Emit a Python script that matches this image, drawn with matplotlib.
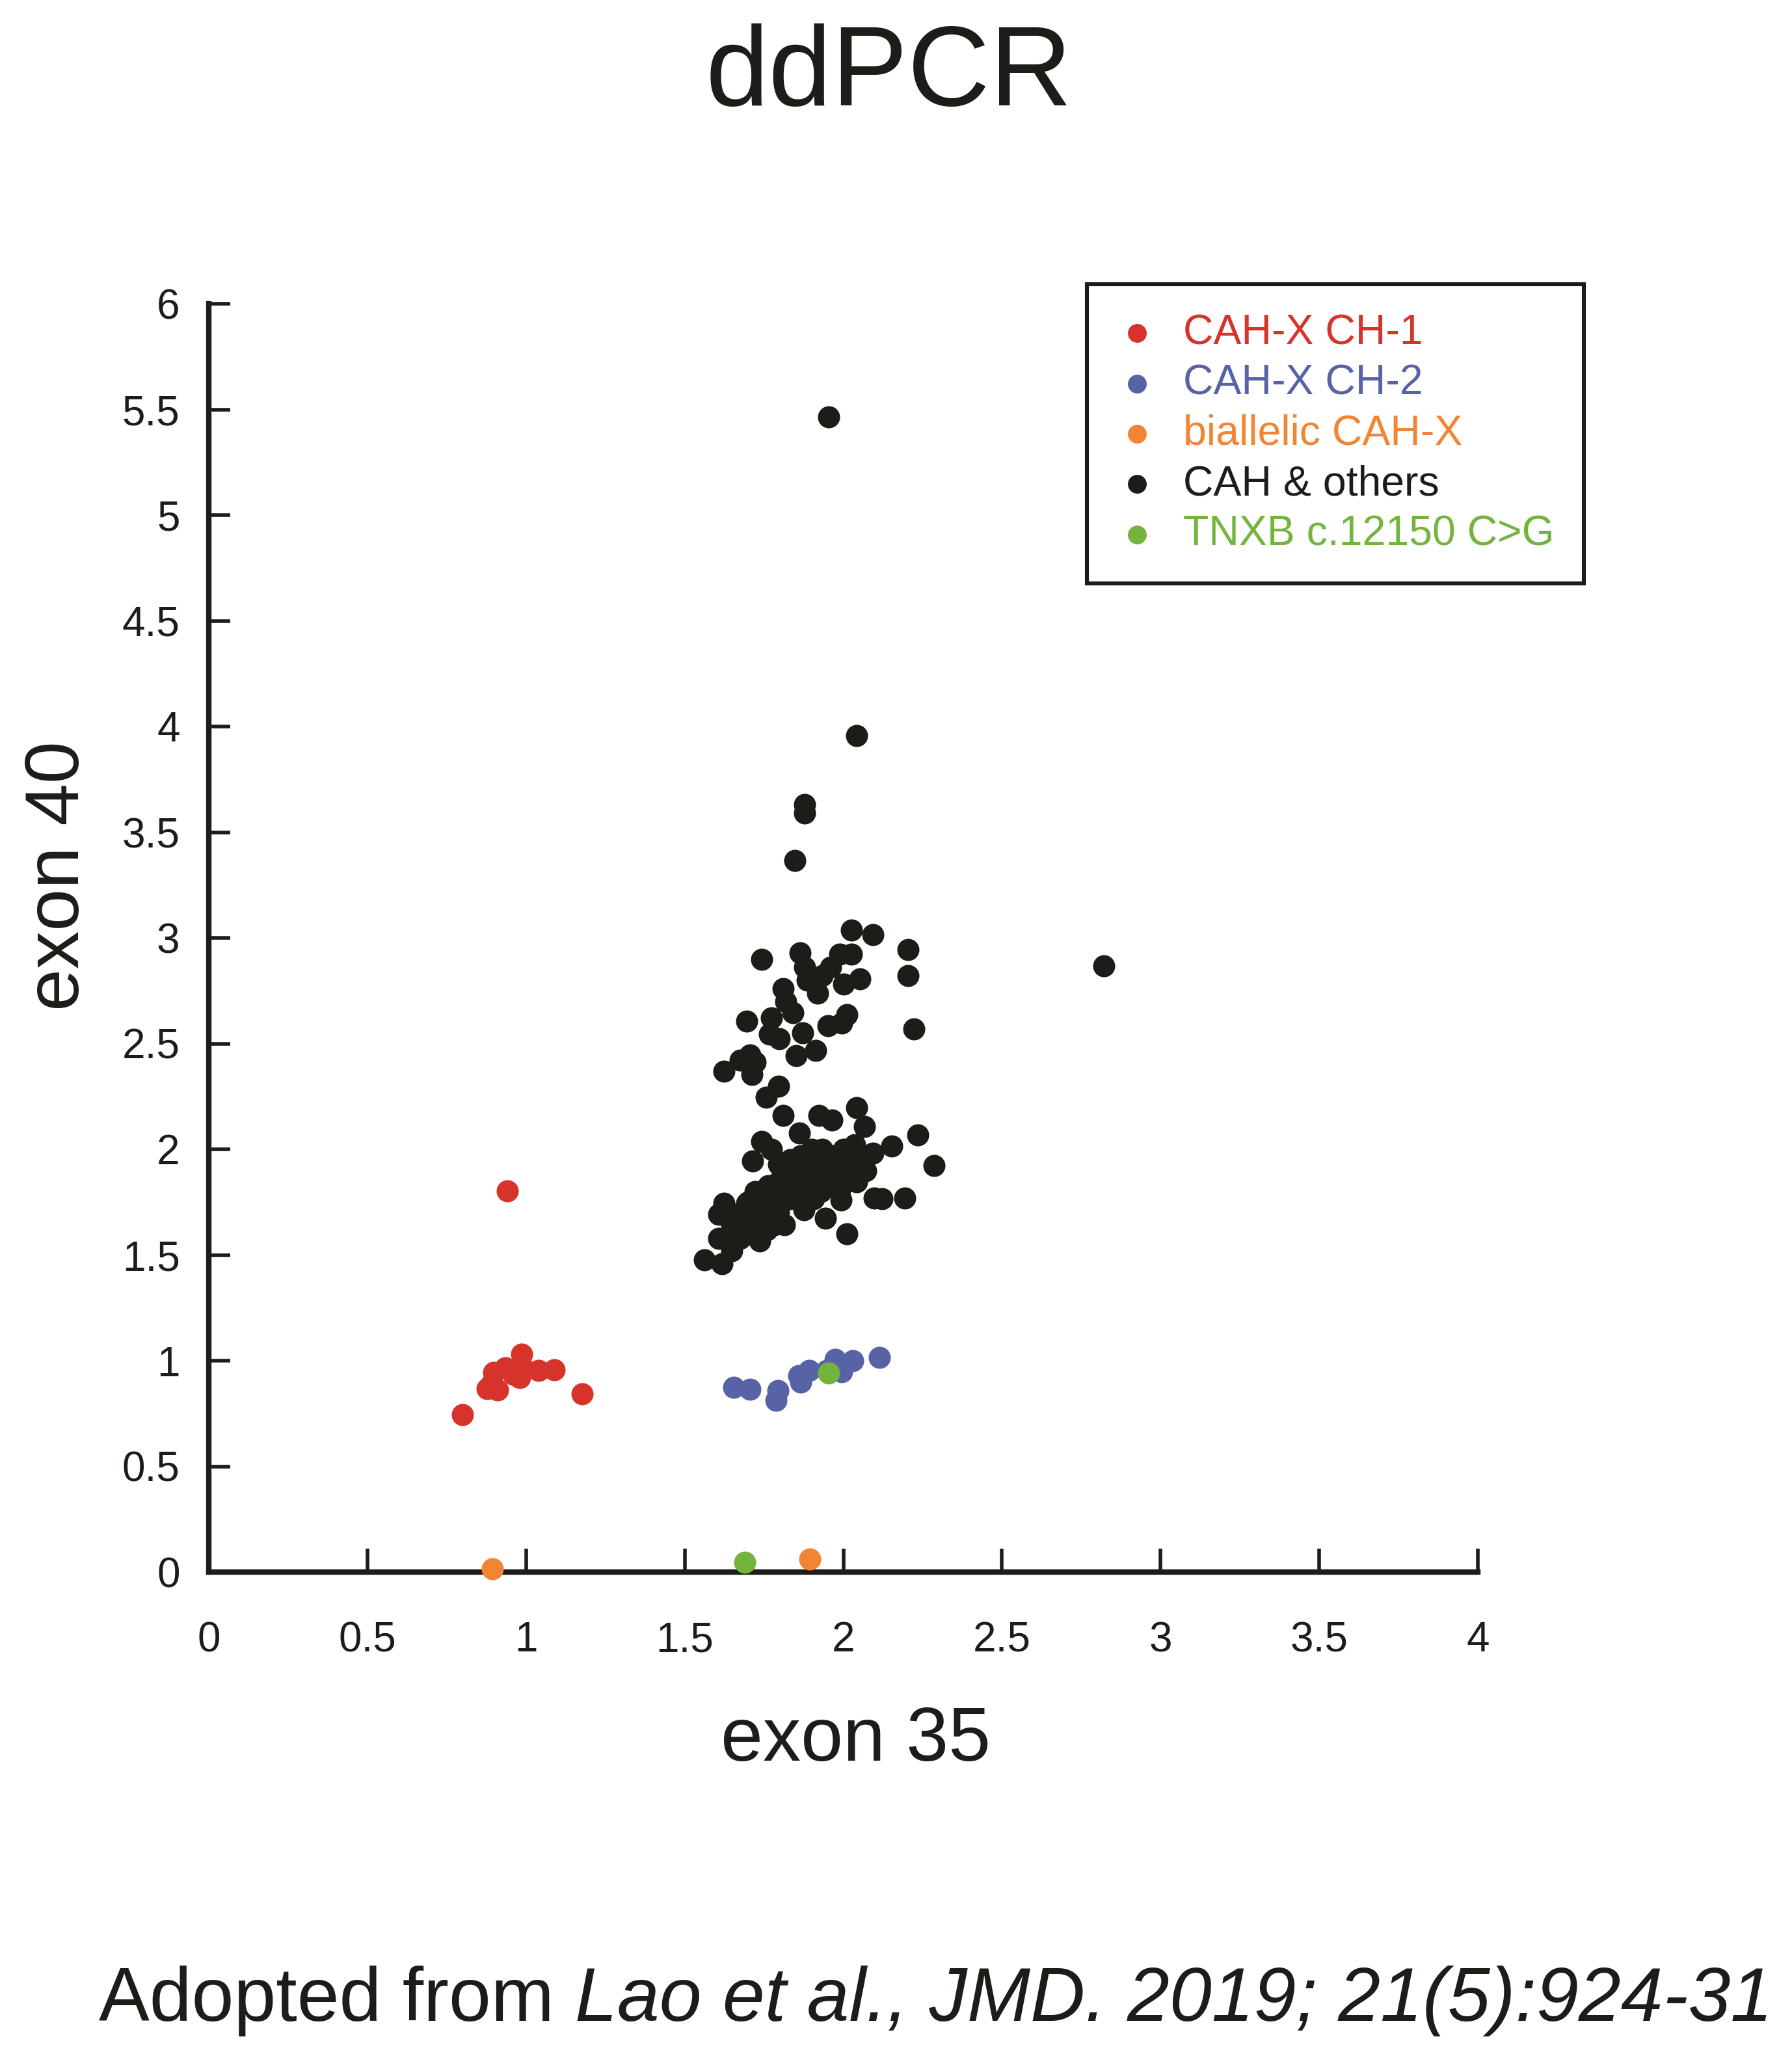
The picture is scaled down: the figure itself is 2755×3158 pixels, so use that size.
#!/usr/bin/env python3
# -*- coding: utf-8 -*-
"""
ddPCR: exon 35 vs exon 40 散布図
"""

import matplotlib
matplotlib.use('Agg')
import matplotlib.pyplot as plt

plt.rcParams['font.family'] = ['Liberation Sans', 'DejaVu Sans']

# --- データ (exon 35, exon 40) ---
ch1_x = [0.941, 0.800, 1.177, 1.089, 1.039, 0.986, 0.980, 0.935, 0.898, 0.877, 0.911, 0.986, 0.959, 0.891]
ch1_y = [1.804, 0.745, 0.842, 0.957, 0.955, 1.032, 0.919, 0.965, 0.945, 0.868, 0.863, 0.975, 0.934, 0.893]

ch2_x = [1.654, 1.705, 1.794, 1.787, 1.859, 1.866, 1.893, 1.975, 2.029, 1.995, 2.114, 1.947]
ch2_y = [0.873, 0.864, 0.857, 0.811, 0.929, 0.898, 0.955, 1.006, 1.001, 0.949, 1.014, 0.955]

biallelic_x = [0.893, 1.894]
biallelic_y = [0.015, 0.061]

tnxb_x = [1.954, 1.690]
tnxb_y = [0.942, 0.047]

cah_x = [1.954, 2.043, 1.877, 1.877, 2.822,
         1.847, 2.026, 2.094, 2.204, 2.204, 1.743, 1.864, 1.920, 1.988, 2.026,
         2.053, 2.002, 1.886, 1.961, 1.879, 1.934, 2.222, 1.811, 1.818, 1.842,
         1.695, 1.774, 1.767, 1.798, 1.872, 1.852, 1.913, 1.951, 2.012, 1.995,
         1.705, 1.675, 1.624, 1.723, 1.712, 1.795, 1.757,
         1.811, 1.924, 1.965, 2.043, 2.067, 2.234, 2.152, 2.285, 1.862, 1.743,
         1.774, 1.714, 2.094, 2.193, 2.097, 2.121, 1.992, 1.944, 2.012, 1.876,
         1.815, 1.736, 1.562, 1.617, 1.648, 1.607, 1.624, 1.607, 1.723,
         1.797, 1.832, 1.866, 1.900, 1.934, 1.968, 2.002, 2.036, 2.057, 2.043,
         2.002, 1.968, 1.934, 1.900, 1.866, 1.832, 1.797, 1.763, 1.729, 1.695,
         1.661, 1.648, 1.675, 1.709, 1.763, 1.797, 1.832, 1.866, 1.900, 1.934,
         1.968, 1.988, 1.907, 1.675, 1.709, 1.648, 1.743, 1.784, 2.070,
         1.700, 1.680, 1.740, 1.780, 1.820, 1.850, 1.880, 1.920, 1.950, 1.980,
         2.020, 2.050, 1.750, 1.720, 1.810, 1.860, 1.890, 1.930, 1.960, 2.000,
         1.660, 1.700, 1.760]
cah_y = [5.464, 3.957, 3.630, 3.590, 2.869,
         3.367, 3.037, 3.016, 2.945, 2.822, 2.899, 2.929, 2.740, 2.924, 2.924,
         2.806, 2.781, 2.801, 2.863, 2.863, 2.822, 2.570, 2.760, 2.699, 2.647,
         2.606, 2.622, 2.545, 2.524, 2.550, 2.442, 2.468, 2.586, 2.637, 2.596,
         2.447, 2.422, 2.370, 2.411, 2.355, 2.299, 2.247,
         2.160, 2.160, 2.139, 2.196, 2.109, 2.068, 2.016, 1.924, 2.078, 2.037,
         2.001, 1.945, 1.981, 1.770, 1.770, 1.765, 1.760, 1.673, 1.601, 1.714,
         1.642, 1.565, 1.478, 1.457, 1.519, 1.580, 1.745, 1.693, 1.801,
         1.929, 1.950, 1.970, 2.001, 2.001, 1.970, 2.001, 2.022, 1.929, 1.847,
         1.868, 1.898, 1.919, 1.898, 1.888, 1.878, 1.847, 1.827, 1.786, 1.745,
         1.693, 1.642, 1.642, 1.693, 1.745, 1.704, 1.765, 1.816, 1.827, 1.847,
         1.827, 1.806, 1.765, 1.580, 1.601, 1.560, 1.663, 1.642, 1.898,
         1.750, 1.700, 1.720, 1.800, 1.830, 1.930, 1.950, 1.860, 1.930, 1.890,
         1.950, 1.970, 1.680, 1.660, 1.780, 1.800, 1.760, 1.800, 1.840, 1.840,
         1.620, 1.600, 1.620]

x_ticks = [0, 0.5, 1, 1.5, 2, 2.5, 3, 3.5, 4]
y_ticks = [0, 0.5, 1, 1.5, 2, 2.5, 3, 3.5, 4, 4.5, 5, 5.5, 6]

RED = '#d6332b'
BLUE = '#5763a6'
ORANGE = '#f28533'
BLACK = '#1e1c18'
GREEN = '#72b43c'

# --- 図 ---
W, H, DPI = 2755, 3158, 200
fig = plt.figure(figsize=(W / DPI, H / DPI), dpi=DPI)
ax = fig.add_axes([321 / W, 1 - 2417 / H, (2272 - 321) / W, (2417 - 467) / H])

s = 150
ax.scatter(ch1_x, ch1_y, s=s, color=RED, lw=0, label='CAH-X CH-1', zorder=3)
ax.scatter(ch2_x, ch2_y, s=s, color=BLUE, lw=0, label='CAH-X CH-2', zorder=3)
ax.scatter(biallelic_x, biallelic_y, s=s, color=ORANGE, lw=0, label='biallelic CAH-X', zorder=4)
ax.scatter(cah_x, cah_y, s=s, color=BLACK, lw=0, label='CAH & others', zorder=3)
ax.scatter(tnxb_x, tnxb_y, s=s, color=GREEN, lw=0, label='TNXB c.12150 C>G', zorder=4)

ax.set_xlim(0, 4)
ax.set_ylim(0, 6)
ax.set_xticks(x_ticks)
ax.set_yticks(y_ticks)
ax.set_xticklabels([f'{t:g}' for t in x_ticks])
ax.set_yticklabels([f'{t:g}' for t in y_ticks])

for side in ('top', 'right'):
    ax.spines[side].set_visible(False)
for side in ('left', 'bottom'):
    ax.spines[side].set_linewidth(3.0)
    ax.spines[side].set_color(BLACK)
ax.tick_params(axis='x', direction='in', length=13, width=2.0, pad=27, labelsize=23, colors=BLACK)
ax.tick_params(axis='y', direction='in', length=12, width=2.0, pad=16, labelsize=23, colors=BLACK)
for coll in ax.collections:
    coll.set_clip_on(False)

# 凡例
leg = ax.legend(loc='upper left', bbox_to_anchor=(1671 / W, 1 - 437 / H),
                bbox_transform=fig.transFigure, borderaxespad=0,
                fontsize=23.2, frameon=True, fancybox=False, edgecolor=BLACK,
                framealpha=1, scatterpoints=1, markerscale=0.85,
                handlelength=1.0, handletextpad=0.6, borderpad=0.7,
                labelspacing=0.27)
leg.get_frame().set_linewidth(2.2)
for txt, c in zip(leg.get_texts(), [RED, BLUE, ORANGE, BLACK, GREEN]):
    txt.set_color(c)

# ラベル・タイトル
fig.text(1316 / W, 1 - 2677 / H, 'exon 35', fontsize=42, ha='center', va='center', color=BLACK)
fig.text(91 / W, 1 - 1347 / H, 'exon 40', fontsize=42, ha='center', va='center',
         rotation=90, color=BLACK)
fig.text(1367 / W, 1 - 117 / H, 'ddPCR', fontsize=63, ha='center', va='center', color=BLACK)

# 出典
renderer = fig.canvas.get_renderer()
base_y = 1 - 3107 / H
t1 = fig.text(152 / W, base_y, 'Adopted from ', fontsize=42, ha='left', va='baseline', color=BLACK)
bb = t1.get_window_extent(renderer)
fig.text(bb.x1 / W, base_y, 'Lao et al., JMD. 2019; 21(5):924-31', fontsize=42,
         ha='left', va='baseline', style='italic', color=BLACK)

fig.savefig('out.png', dpi=DPI)
plt.close(fig)
